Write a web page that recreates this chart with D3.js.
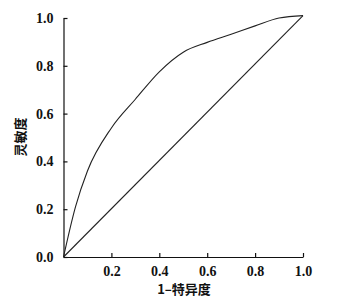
<!DOCTYPE html>
<html>
<head>
<meta charset="utf-8">
<script src="https://cdn.jsdelivr.net/npm/d3@7"></script>
<style>
  body { margin: 0; background: #fff; }
  .tick text { font-family: "Liberation Serif", "DejaVu Serif", serif; font-weight: bold; font-size: 14px; fill: #111; }
  .axis-title { font-family: "Noto Sans CJK SC", sans-serif; font-weight: bold; font-size: 13px; fill: #111; }
</style>
</head>
<body>
<svg id="chart" width="349" height="298"></svg>
<script>
//ROC curve values
var fpr = [0, 0.05, 0.1, 0.2, 0.3, 0.4, 0.5, 0.6, 0.7, 0.8, 0.9, 1.0];
var tpr = [0, 0.21, 0.36, 0.54, 0.66, 0.775, 0.857, 0.898, 0.932, 0.967, 1.0, 1.01];
var refLine = [[0, 0], [1, 1.01]];
var xTicks = [0.2, 0.4, 0.6, 0.8, 1.0];
var yTicks = [0, 0.2, 0.4, 0.6, 0.8, 1.0];
var xTitle = "1\u2013特异度";
var yTitle = "灵敏度";

var svg = d3.select("#chart");
var x = d3.scaleLinear().domain([0, 1]).range([63.5, 303]);
var y = d3.scaleLinear().domain([0, 1]).range([257, 18]);

//axes, ticks pointing inward
svg.append("g")
    .attr("transform", "translate(0," + y(0) + ")")
    .call(d3.axisBottom(x).tickValues(xTicks).tickFormat(d3.format(".1f")).tickSizeInner(-4).tickSizeOuter(0).tickPadding(9));
svg.append("g")
    .attr("transform", "translate(" + x(0) + ",0)")
    .call(d3.axisLeft(y).tickValues(yTicks).tickFormat(d3.format(".1f")).tickSizeInner(-4).tickSizeOuter(0).tickPadding(10));
svg.selectAll(".domain, .tick line").attr("stroke", "#111").attr("stroke-width", 1.2);

var line = d3.line().x(function (d) { return x(d[0]); }).y(function (d) { return y(d[1]); });

//diagonal reference line
svg.append("path")
    .datum(refLine)
    .attr("d", line)
    .attr("fill", "none").attr("stroke", "#222").attr("stroke-width", 1.1);

//ROC curve
var pts = fpr.map(function (d, i) { return [d, tpr[i]]; });
svg.append("path")
    .datum(pts)
    .attr("d", line.curve(d3.curveMonotoneX))
    .attr("fill", "none").attr("stroke", "#222").attr("stroke-width", 1.1);

//axis titles
svg.append("text").attr("class", "axis-title")
    .attr("x", 184).attr("y", 294).attr("text-anchor", "middle").text(xTitle);
svg.append("text").attr("class", "axis-title")
    .attr("transform", "translate(25,137) rotate(-90)").attr("text-anchor", "middle").text(yTitle);
</script>
</body>
</html>
